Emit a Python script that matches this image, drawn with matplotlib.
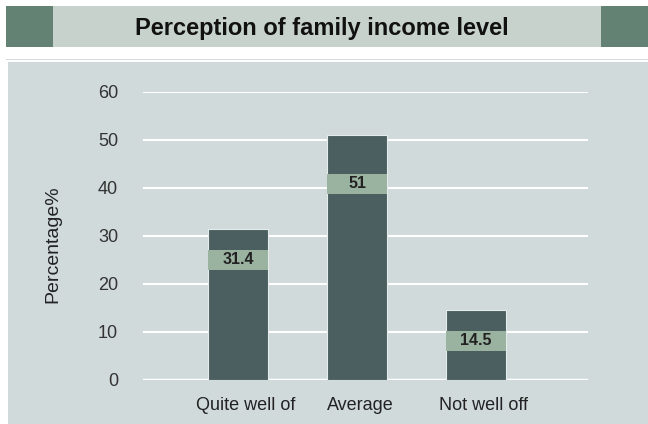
import matplotlib.pyplot as plt
from matplotlib.patches import Rectangle

categories = ['Quite well of', 'Average', 'Not well off']
values = [31.4, 51, 14.5]
labels = ['31.4', '51', '14.5']
yticks = [0, 10, 20, 30, 40, 50, 60]

fig = plt.figure(figsize=(6.48, 4.24), dpi=100)
fig.patch.set_facecolor('white')
W, H = 648, 424

def box(x0, y0, x1, y1, color, z=0):
    # pixel box (top-left origin) -> figure coords
    fig.add_artist(Rectangle((x0 / W, 1 - y1 / H), (x1 - x0) / W, (y1 - y0) / H,
                             transform=fig.transFigure, facecolor=color,
                             edgecolor='none', zorder=z))

# title banner
box(6, 6, 53, 47, '#648274')
box(53, 6, 601, 47, '#c8d2cd')
box(601, 6, 648, 47, '#648274')
fig.text(322 / W, 1 - 28 / H, 'Perception of family income level', ha='center', va='center',
         fontsize=17, fontweight='bold', family='Liberation Sans', color='#111111')
box(6, 58.5, 648, 60, '#d3dbdb')

# panel background
box(8, 62, 648, 424, '#d0dadb')

ax = fig.add_axes([143 / W, 44 / H, 445 / W, 288 / H])
ax.set_facecolor('none')
ax.set_zorder(2)
x = list(range(len(categories)))
bars = ax.bar(x, values, width=0.5, color='#4b5f60', edgecolor='#e6ecec', linewidth=0.8, zorder=3)

label_pos = [25, 40.9, 8.2]
for xi, lp, lab in zip(x, label_pos, labels):
    ax.add_patch(Rectangle((xi - 0.25, lp - 2.1), 0.5, 4.2, facecolor='#9ab2a0',
                           edgecolor='none', zorder=4))
    ax.text(xi, lp, lab, ha='center', va='center', fontsize=11.5, fontweight='bold',
            family='Liberation Sans', color='#222222', zorder=5)

ax.set_xlim(-0.80, 2.94)
ax.set_ylim(0, 60)
ax.set_yticks(yticks)
ax.set_xticks([0.06, 1.03, 2.06])
ax.set_xticklabels(categories, family='Liberation Sans', fontsize=13, color='#222222')
ax.tick_params(axis='x', length=0, pad=12)
ax.tick_params(axis='y', length=0, pad=18, labelsize=13, labelcolor='#333333')
for t in ax.get_yticklabels():
    t.set_family('Liberation Sans')
ax.grid(axis='y', color='white', linewidth=1.5, zorder=1)
ax.axhline(0, color='white', linewidth=2.5, zorder=2)
for s in ax.spines.values():
    s.set_visible(False)
ax.set_ylabel('Percentage%', family='Liberation Sans', fontsize=14, color='#222222')
ax.yaxis.set_label_coords(-0.183, 0.47)

fig.savefig('out.png', dpi=100)
